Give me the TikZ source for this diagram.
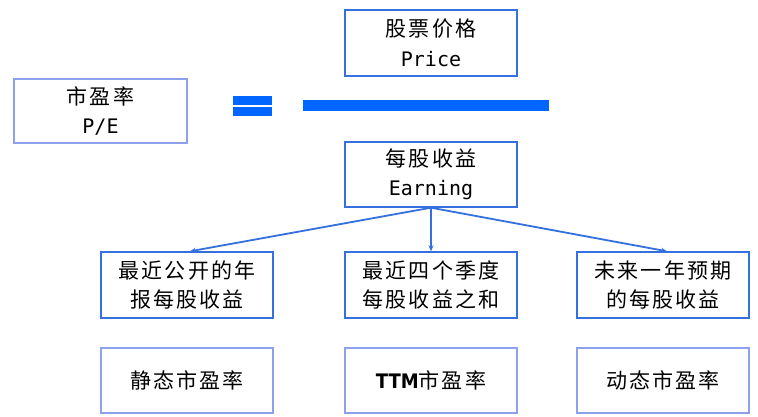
\documentclass[tikz,border=0pt]{standalone}
\usepackage{fontspec}
\setmainfont{Noto Sans CJK SC}
\newfontfamily\cjk[LetterSpace=10]{Noto Sans CJK SC}
\newfontfamily\lat{DejaVu Sans Mono}
\newfontfamily\ttmfont{DejaVu Sans Condensed}
\usetikzlibrary{arrows.meta}
\definecolor{boxblue}{RGB}{52,112,222}
\definecolor{lightblue}{RGB}{140,160,235}
\definecolor{barblue}{RGB}{0,102,255}
\begin{document}
\begin{tikzpicture}[x=1pt,y=-1pt,
  base/.style={draw, line width=1.4pt, align=center, inner sep=0pt,
    font=\cjk\fontsize{21}{29.5}\selectfont},
  mainbox/.style={base, draw=boxblue, minimum width=172pt, minimum height=66pt},
  litebox/.style={base, draw=lightblue, minimum width=172pt, minimum height=65pt},
  arr/.style={draw=boxblue, line width=1.8pt, -{Stealth[length=6pt,width=5pt]}},
  barfill/.style={fill=barblue, draw=none}]
\useasboundingbox (0,0) rectangle (758,417);
\fill[white] (0,0) rectangle (758,417);
% nodes
\node[litebox, minimum width=173pt, minimum height=64pt] (pe) at (100.5,111) {市盈率\\{\lat\fontsize{20}{29.5}\selectfont P/E}};
\node[mainbox] (price) at (431,43) {股票价格\\{\lat\fontsize{20}{29.5}\selectfont Price}};
\node[mainbox, minimum height=65pt] (earn) at (431,174.5) {每股收益\\{\lat\fontsize{20}{29.5}\selectfont Earning}};
\node[mainbox] (ra) at (187,285) {最近公开的年\\报每股收益};
\node[mainbox] (rb) at (431,285) {最近四个季度\\每股收益之和};
\node[mainbox] (rc) at (663,285) {未来一年预期\\的每股收益};
\node[litebox] (sa) at (187,380.5) {静态市盈率};
\node[litebox] (sb) at (431,380.5) {{\ttmfont\bfseries\fontsize{20}{29.5}\selectfont TTM}市盈率};
\node[litebox] (sc) at (663,380.5) {动态市盈率};
% equals sign and fraction bar
\path[barfill] (233,96) rectangle (272,105.2);
\path[barfill] (233,107) rectangle (272,116);
\path[barfill] (303,100) rectangle (549,111);
% arrows
\draw[arr] (earn.south) -- ([xshift=3pt]ra.north);
\draw[arr] (earn.south) -- (rb.north);
\draw[arr] (earn.south) -- ([xshift=4pt]rc.north);
\end{tikzpicture}
\end{document}
